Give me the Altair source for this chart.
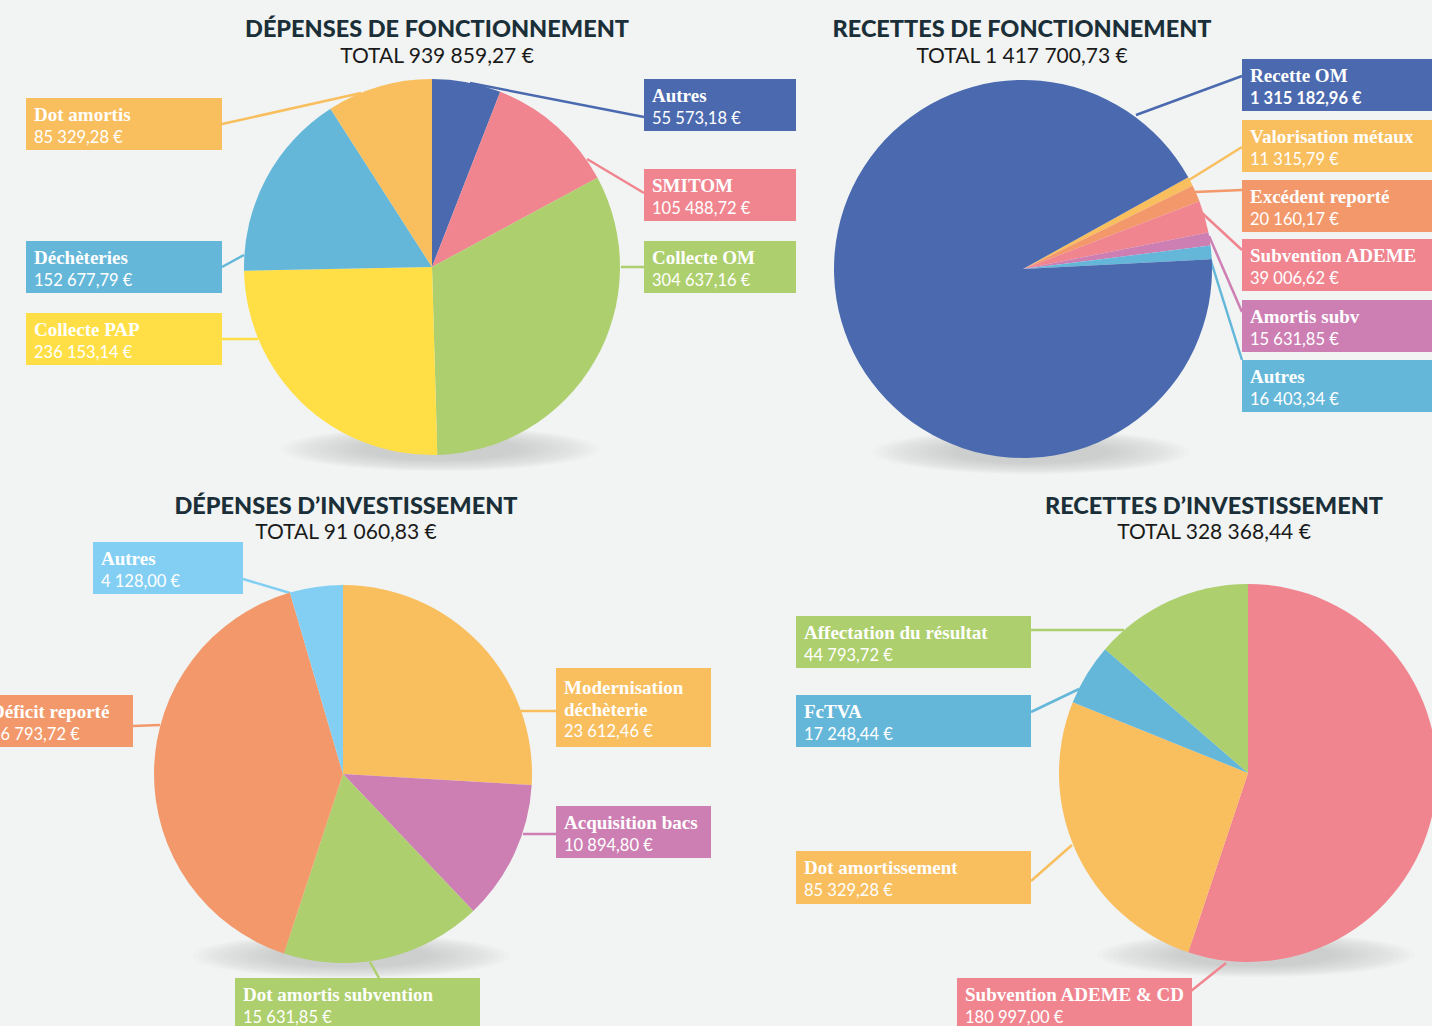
import math
import altair as alt
import pandas as pd

W, H = 1432, 1026
BG = "#f1f4f3"

BLUE = "#4a69af"
PINK = "#f0858f"
GREEN = "#adcf6d"
YELLOW = "#ffdf45"
LBLUE = "#65b7d9"
ORANGE_Y = "#f9be5e"
ORANGE = "#f2986a"
PURPLE = "#cd7fb4"
SKY = "#83cff3"

# ---------------- data ----------------
dep_fonc_labels = ["Autres", "SMITOM", "Collecte OM", "Collecte PAP", "Déchèteries", "Dot amortis"]
dep_fonc_values = [55573.18, 105488.72, 304637.16, 236153.14, 152677.79, 85329.28]
dep_fonc_colors = [BLUE, PINK, GREEN, YELLOW, LBLUE, ORANGE_Y]

rec_fonc_labels = ["Valorisation métaux", "Excédent reporté", "Subvention ADEME", "Amortis subv", "Autres", "Recette OM"]
rec_fonc_values = [11315.79, 20160.17, 39006.62, 15631.85, 16403.34, 1315182.96]
rec_fonc_colors = [ORANGE_Y, ORANGE, PINK, PURPLE, LBLUE, BLUE]

dep_inv_labels = ["Modernisation déchèterie", "Acquisition bacs", "Dot amortis subvention", "Déficit reporté", "Autres"]
dep_inv_values = [23612.46, 10894.80, 15631.85, 36793.72, 4128.00]
dep_inv_colors = [ORANGE_Y, PURPLE, GREEN, ORANGE, SKY]

rec_inv_labels = ["Subvention ADEME & CD", "Dot amortissement", "FcTVA", "Affectation du résultat"]
rec_inv_values = [180997.00, 85329.28, 17248.44, 44793.72]
rec_inv_colors = [PINK, ORANGE_Y, LBLUE, GREEN]

titles = ["DÉPENSES DE FONCTIONNEMENT", "RECETTES DE FONCTIONNEMENT",
          "DÉPENSES D’INVESTISSEMENT", "RECETTES D’INVESTISSEMENT"]
totals = ["TOTAL 939 859,27 €", "TOTAL 1 417 700,73 €",
          "TOTAL 91 060,83 €", "TOTAL 328 368,44 €"]

# ---------------- layout ----------------
title_x = [437, 1022, 346, 1214]
title_y = [37, 37, 514, 514]
total_y = [63, 63, 539, 539]

# pie centre x, centre y, radius, start angle (deg)
pie_layout = [
    (432, 267, 188, 0),
    (1023, 269, 189, 61),
    (343, 774, 189, 0),
    (1248, 773, 189, 0),
]

# label boxes (x0, y0, x1, y1) and connector (xa, ya, xb, yb) in slice order
dep_fonc_boxes = [(644, 79, 796, 131), (644, 169, 796, 221), (644, 241, 796, 293),
                  (26, 313, 222, 365), (26, 241, 222, 293), (26, 98, 222, 150)]
dep_fonc_links = [(470, 83, 644, 117), (587, 159, 644, 193), (621, 267, 644, 267),
                  (222, 339, 258, 339), (222, 267, 244, 255), (222, 124, 361, 93)]

rec_fonc_boxes = [(1242, 120, 1440, 172), (1242, 180, 1440, 232), (1242, 239, 1440, 291),
                  (1242, 300, 1440, 352), (1242, 360, 1440, 412), (1242, 59, 1440, 111)]
rec_fonc_links = [(1189, 180, 1242, 147), (1195, 192, 1242, 190), (1202, 213, 1242, 250),
                  (1209, 236, 1242, 312), (1210, 258, 1242, 360), (1136, 115, 1242, 76)]

dep_inv_boxes = [(556, 668, 711, 747), (556, 806, 711, 858), (235, 978, 480, 1040),
                 (-17, 695, 133, 747), (93, 542, 243, 594)]
dep_inv_links = [(521, 711, 556, 711), (523, 834, 556, 834), (370, 962, 379, 978),
                 (133, 726, 160, 725), (243, 579, 290, 593)]

rec_inv_boxes = [(957, 978, 1192, 1040), (796, 851, 1031, 904), (796, 695, 1031, 747),
                 (796, 616, 1031, 668)]
rec_inv_links = [(1226, 963, 1191, 991), (1072, 845, 1031, 881), (1079, 689, 1031, 712),
                 (1124, 630, 1031, 630)]

# shadows (centre x, centre y, width)
shadow_x = [440, 1031, 351, 1256]
shadow_y = [449, 452, 956, 955]
shadow_w = [318, 318, 318, 318]

bold_values = ["Recette OM"]


def fmt(v):
    s = f"{v:,.2f}"
    return s.replace(",", " ").replace(".", ",") + " €"


pies = [
    (dep_fonc_labels, dep_fonc_values, dep_fonc_colors, dep_fonc_boxes, dep_fonc_links),
    (rec_fonc_labels, rec_fonc_values, rec_fonc_colors, rec_fonc_boxes, rec_fonc_links),
    (dep_inv_labels, dep_inv_values, dep_inv_colors, dep_inv_boxes, dep_inv_links),
    (rec_inv_labels, rec_inv_values, rec_inv_colors, rec_inv_boxes, rec_inv_links),
]

xs = alt.Scale(domain=[0, W], range=[0, W], nice=False, zero=False)
ys = alt.Scale(domain=[0, H], range=[0, H], nice=False, zero=False)


def X(f):
    return alt.X(f, type="quantitative", scale=xs, axis=None)


def Y(f):
    return alt.Y(f, type="quantitative", scale=ys, axis=None)


rects, rules, names, vals, bvals = [], [], [], [], []
for labels, values, colors, boxes, links in pies:
    for lab, v, col, b, ln in zip(labels, values, colors, boxes, links):
        x0, y0, x1, y1 = b
        rects.append(dict(x0=x0, y0=y0, x1=x1, y1=y1, color=col))
        rules.append(dict(xa=ln[0], ya=ln[1], xb=ln[2], yb=ln[3], color=col))
        if lab == "Modernisation déchèterie":
            parts = ["Modernisation", "déchèterie"]
        else:
            parts = [lab]
        n = len(parts)
        base = y0 + 23 + 3 * (n - 1)
        for j, p in enumerate(parts):
            names.append(dict(x=x0 + 8, y=base + 21.5 * j, text=p))
        row = dict(x=x0 + 8, y=base + 21.5 * n, text=fmt(v))
        (bvals if lab in bold_values else vals).append(row)

layers = []

# soft shadows under the pies
k = 0.5523
ry = 0.14
ell = (f"M -1 0 C -1 {-k*ry:.4f} {-k:.4f} {-ry} 0 {-ry} "
       f"C {k:.4f} {-ry} 1 {-k*ry:.4f} 1 0 "
       f"C 1 {k*ry:.4f} {k:.4f} {ry} 0 {ry} "
       f"C {-k:.4f} {ry} -1 {k*ry:.4f} -1 0 Z")
shadow_rows = []
steps = 16
for sx, sy, sw in zip(shadow_x, shadow_y, shadow_w):
    for i in range(steps):
        f = 1.0 - 0.5 * i / (steps - 1)
        shadow_rows.append(dict(x=sx, y=sy, size=(sw * f) ** 2))
layers.append(
    alt.Chart(pd.DataFrame(shadow_rows)).mark_point(
        shape=ell, filled=True, color="#a9b5b2", opacity=0.04, strokeWidth=0
    ).encode(x=X("x"), y=Y("y"), size=alt.Size("size:Q", scale=None, legend=None))
)

# connectors
layers.append(
    alt.Chart(pd.DataFrame(rules)).mark_rule(strokeWidth=2.5).encode(
        x=X("xa"), y=Y("ya"), x2="xb", y2="yb", color=alt.Color("color:N", scale=None)
    )
)

# pies
for (labels, values, colors, _, _), (cx, cy, r, a0) in zip(pies, pie_layout):
    df = pd.DataFrame(dict(label=labels, value=values, color=colors, idx=list(range(len(labels)))))
    s = math.radians(a0)
    layers.append(
        alt.Chart(df).mark_arc(radius=r, strokeWidth=0).encode(
            theta=alt.Theta("value:Q", stack=True, scale=alt.Scale(range=[s, s + 2 * math.pi])),
            order=alt.Order("idx:Q"),
            color=alt.Color("color:N", scale=None),
            x=alt.value(cx),
            y=alt.value(cy),
        )
    )

# boxes
layers.append(
    alt.Chart(pd.DataFrame(rects)).mark_rect().encode(
        x=X("x0"), x2="x1", y=Y("y0"), y2="y1", color=alt.Color("color:N", scale=None)
    )
)

layers.append(
    alt.Chart(pd.DataFrame(names)).mark_text(
        align="left", baseline="alphabetic", font="Liberation Serif", fontWeight="bold",
        fontSize=19, color="white"
    ).encode(x=X("x"), y=Y("y"), text="text:N")
)
layers.append(
    alt.Chart(pd.DataFrame(vals)).mark_text(
        align="left", baseline="alphabetic", font="Lato", fontSize=16.5, color="white"
    ).encode(x=X("x"), y=Y("y"), text="text:N")
)
layers.append(
    alt.Chart(pd.DataFrame(bvals)).mark_text(
        align="left", baseline="alphabetic", font="Lato", fontWeight="bold", fontSize=16.5, color="white"
    ).encode(x=X("x"), y=Y("y"), text="text:N")
)

tdf = pd.DataFrame(dict(x=title_x, y=title_y, text=titles))
sdf = pd.DataFrame(dict(x=title_x, y=total_y, text=totals))
layers.append(
    alt.Chart(tdf).mark_text(
        align="center", baseline="alphabetic", font="Lato", fontWeight=900, fontSize=23.5, color="#1b2f38"
    ).encode(x=X("x"), y=Y("y"), text="text:N")
)
layers.append(
    alt.Chart(sdf).mark_text(
        align="center", baseline="alphabetic", font="Lato", fontSize=21, color="#1a1a1a"
    ).encode(x=X("x"), y=Y("y"), text="text:N")
)

chart = (
    alt.layer(*layers)
    .resolve_scale(theta="independent")
    .properties(width=W, height=H, padding=0, autosize=alt.AutoSizeParams(type="none"), background=BG)
    .configure_view(stroke=None)
)

chart.save("out.html", embed_options={"renderer": "svg", "actions": False})
